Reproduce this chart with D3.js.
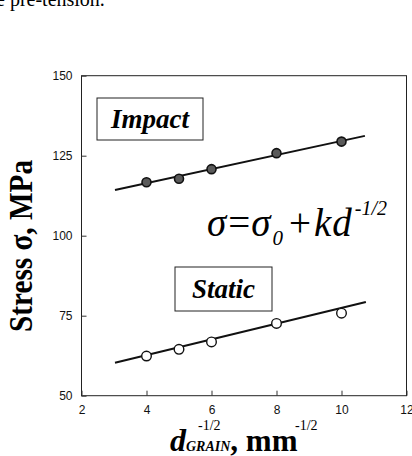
<!DOCTYPE html>
<html>
<head>
<meta charset="utf-8">
<script src="https://cdn.jsdelivr.net/npm/d3@7"></script>
<style>
  body { margin: 0; background: #fff; }
  svg { display: block; }
</style>
</head>
<body>
<svg width="412" height="456"></svg>
<script>
// values
var grainX = [4, 5, 6, 8, 10];
var impactStress = [116.7, 117.8, 120.8, 125.8, 129.4];
var staticStress = [62.4, 64.5, 66.8, 72.6, 75.8];
// fitted lines (end points)
var impactFit = [[3.03, 114.3], [10.72, 131.2]];
var staticFit = [[3.03, 60.3], [10.75, 79.3]];
var xTicks = [2, 4, 6, 8, 10, 12];
var yTicks = [50, 75, 100, 125, 150];

var svg = d3.select("svg");

var x = d3.scaleLinear().domain([2, 12]).range([81.5, 406.5]);
var y = d3.scaleLinear().domain([50, 150]).range([395.7, 75.7]);

// clipped caption line from the page above
svg.append("text")
  .attr("x", -4).attr("y", 6)
  .style("font-family", "Liberation Serif").style("font-size", "20px")
  .text("e pre-tension.");

// frame
svg.append("rect")
  .attr("x", x(2)).attr("y", y(150))
  .attr("width", x(12) - x(2)).attr("height", y(50) - y(150))
  .attr("fill", "none").attr("stroke", "#222").attr("stroke-width", 1);

// axes, ticks pointing inwards
var xAxis = svg.append("g").attr("transform", "translate(0," + y(50) + ")")
  .call(d3.axisBottom(x).tickValues(xTicks).tickSizeInner(-5).tickSizeOuter(0).tickPadding(10));
var yAxis = svg.append("g").attr("transform", "translate(" + x(2) + ",0)")
  .call(d3.axisLeft(y).tickValues(yTicks).tickSizeInner(-5).tickSizeOuter(0).tickPadding(9));
[xAxis, yAxis].forEach(function(a) {
  a.select(".domain").remove();
  a.selectAll("line").attr("stroke", "#333");
  a.selectAll("text").style("font-family", "Liberation Sans").style("font-size", "12px").attr("fill", "#111");
});

// fit lines
var line = d3.line().x(function(d) { return x(d[0]); }).y(function(d) { return y(d[1]); });
svg.append("path").attr("d", line(impactFit)).attr("fill", "none").attr("stroke", "#111").attr("stroke-width", 2);
svg.append("path").attr("d", line(staticFit)).attr("fill", "none").attr("stroke", "#111").attr("stroke-width", 2);

// points
svg.selectAll("circle.imp")
  .data(grainX.map(function(d, i) { return [d, impactStress[i]]; }))
  .enter().append("circle").attr("class", "imp")
  .attr("cx", function(d) { return x(d[0]); })
  .attr("cy", function(d) { return y(d[1]); })
  .attr("r", 4.5)
  .attr("fill", "#5a5a5a").attr("stroke", "#111").attr("stroke-width", 1.6);

svg.selectAll("circle.sta")
  .data(grainX.map(function(d, i) { return [d, staticStress[i]]; }))
  .enter().append("circle").attr("class", "sta")
  .attr("cx", function(d) { return x(d[0]); })
  .attr("cy", function(d) { return y(d[1]); })
  .attr("r", 4.8)
  .attr("fill", "#fff").attr("stroke", "#111").attr("stroke-width", 1.4);

// labelled boxes
function boxLabel(x0, y0, w, h, label) {
  svg.append("rect").attr("x", x0).attr("y", y0).attr("width", w).attr("height", h)
    .attr("fill", "#fff").attr("stroke", "#222").attr("stroke-width", 1);
  svg.append("text").attr("x", x0 + w / 2).attr("y", y0 + h / 2 + 9)
    .attr("text-anchor", "middle")
    .style("font-family", "Liberation Serif").style("font-size", "27px")
    .style("font-weight", "bold").style("font-style", "italic")
    .text(label);
}
boxLabel(97, 98, 106, 42, "Impact");
boxLabel(175, 267, 97, 44, "Static");

// equation
var eq = svg.append("text").attr("x", 207).attr("y", 236)
  .style("font-family", "Liberation Serif").style("font-size", "39px").style("font-style", "italic");
eq.append("tspan").text("σ");
eq.append("tspan").attr("dx", 2).style("font-style", "normal").text("=");
eq.append("tspan").attr("dx", 1).text("σ");
eq.append("tspan").attr("dy", 9).attr("dx", 2).style("font-size", "21px").text("0");
eq.append("tspan").attr("dy", -9).attr("dx", 6).style("font-style", "normal").text("+");
eq.append("tspan").attr("dx", 3).text("k");
eq.append("tspan").attr("dx", 1).text("d");
eq.append("tspan").attr("dy", -21).attr("dx", 3).style("font-size", "20px").text("-1/2");

// y label
svg.append("text")
  .attr("transform", "translate(32,246) rotate(-90)")
  .attr("text-anchor", "middle")
  .attr("textLength", 172).attr("lengthAdjust", "spacingAndGlyphs")
  .style("font-family", "Liberation Serif").style("font-size", "34px").style("font-weight", "bold")
  .text("Stress σ, MPa");

// x label
var xl = svg.append("text").attr("x", 170).attr("y", 451)
  .style("font-family", "Liberation Serif").style("font-weight", "bold");
xl.append("tspan").style("font-size", "32px").style("font-style", "italic").text("d");
xl.append("tspan").style("font-size", "14px").style("font-style", "italic").text("GRAIN");
xl.append("tspan").style("font-size", "31px").text(", mm");
svg.append("text").attr("x", 198).attr("y", 430)
  .style("font-family", "Liberation Serif").style("font-size", "14px").text("-1/2");
svg.append("text").attr("x", 295).attr("y", 430)
  .style("font-family", "Liberation Serif").style("font-size", "14px").text("-1/2");
</script>
</body>
</html>
